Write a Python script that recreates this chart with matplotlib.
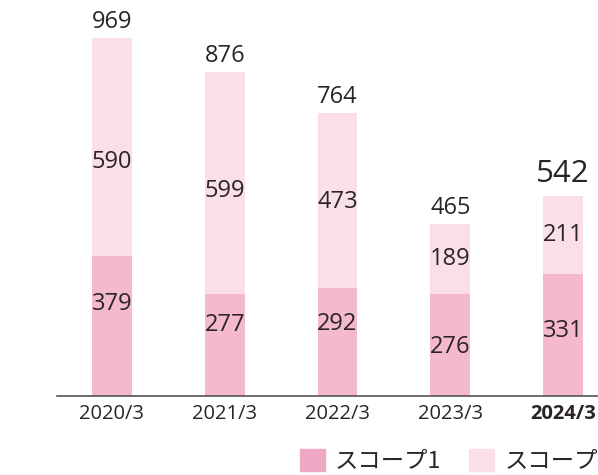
import numpy as np
import matplotlib
matplotlib.use('Agg')
import matplotlib.pyplot as plt
from matplotlib.patches import Patch

plt.rcParams['font.family'] = ['Open Sans', 'Noto Sans CJK JP', 'DejaVu Sans']

# データ
years = ['2020/3', '2021/3', '2022/3', '2023/3', '2024/3']
scope1 = [379, 277, 292, 276, 331]
scope2 = [590, 599, 473, 189, 211]
totals = [969, 876, 764, 465, 542]
legend_labels = ['スコープ1', 'スコープ2']

c1 = '#f4b9cd'
c2 = '#fbdfe8'
c1_leg = '#efa8c3'
txt = '#2b2424'

fig = plt.figure(figsize=(5.98, 4.75), dpi=100)
ax = fig.add_axes([57 / 598, 79 / 475, 541 / 598, 396 / 475])

x = np.arange(len(years))
s1 = np.array(scope1)
s2 = np.array(scope2)
ax.bar(x, s1, width=0.354, color=c1, zorder=2)
ax.bar(x, s2, width=0.354, bottom=s1, color=c2, zorder=2)

ax.set_xlim(-0.487, 4.31)
ax.set_ylim(0, 1071.7)

# ラベル位置の微調整（ピクセル）
off1 = [22, 20, 18, -2, 4]
off2 = [-15, -8, -1, 0, 0]
px = 1071.7 / 396
for i in range(len(x)):
    ax.text(x[i], s1[i] / 2 + off1[i] * px, str(s1[i]), ha='center', va='center',
            fontsize=17, color=txt, zorder=3)
    ax.text(x[i], s1[i] + s2[i] / 2 + off2[i] * px, str(s2[i]), ha='center', va='center',
            fontsize=17, color=txt, zorder=3)
    last = i == len(x) - 1
    ax.text(x[i], s1[i] + s2[i] + (7 if last else 4) * px, str(totals[i]), ha='center',
            va='bottom', fontsize=22.5 if last else 17, color=txt, zorder=3)

for s in ['top', 'right', 'left']:
    ax.spines[s].set_visible(False)
ax.spines['bottom'].set_color('#555555')
ax.spines['bottom'].set_linewidth(1.2)
ax.set_yticks([])
ax.set_xticks(x)
ax.set_xticklabels(years, fontsize=14.5, color=txt)
ax.tick_params(axis='x', length=0, pad=6)
ax.get_xticklabels()[-1].set_fontweight('bold')

handles = [Patch(color=c1_leg), Patch(color=c2)]
fig.legend(handles, legend_labels, loc='lower left', bbox_to_anchor=(300 / 598, 2 / 475),
           ncol=2, frameon=False, handlelength=1.07, handleheight=1.07,
           handletextpad=0.43, columnspacing=1.2, labelcolor=txt,
           borderpad=0, borderaxespad=0,
           prop={'family': ['Noto Sans CJK JP', 'DejaVu Sans'], 'size': 16.8})

fig.savefig('out.png', dpi=100)
